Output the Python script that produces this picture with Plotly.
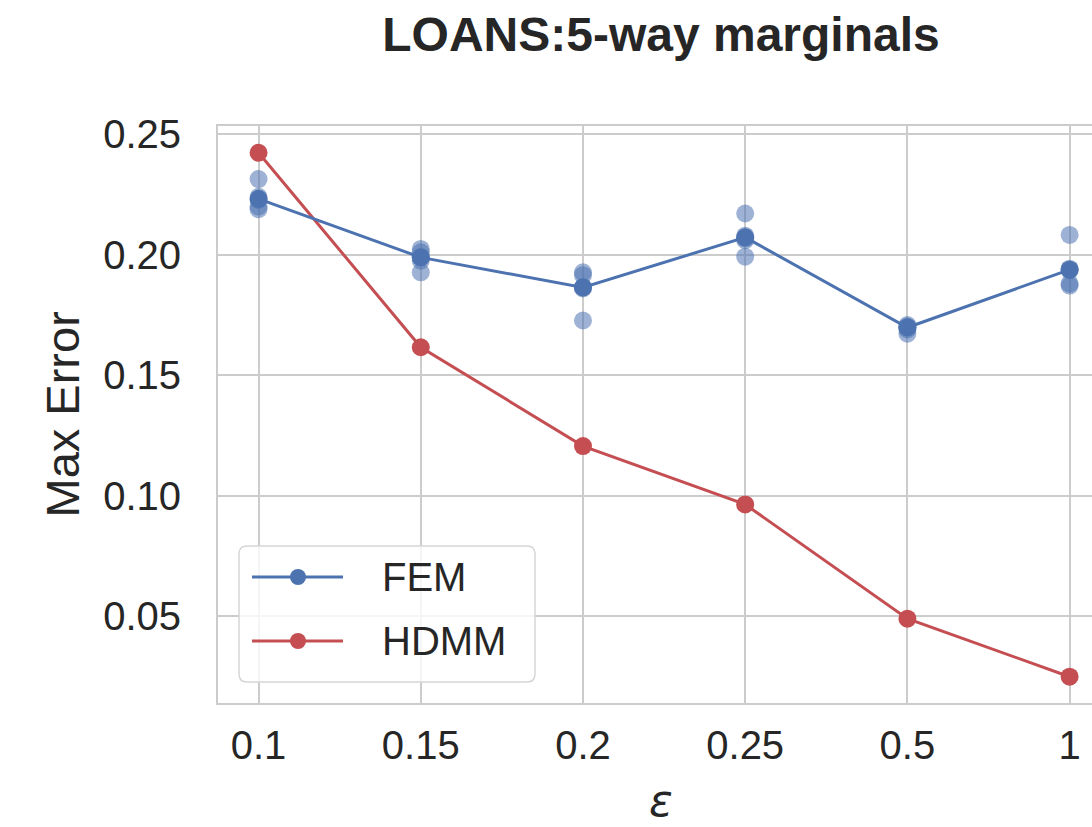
import plotly.graph_objects as go

# ---------------- data ----------------
eps_labels = ["0.1", "0.15", "0.2", "0.25", "0.5", "1"]
hdmm_err = [0.2423, 0.1616, 0.1206, 0.0964, 0.0490, 0.0249]
fem_mean = [0.2232, 0.1989, 0.1864, 0.2072, 0.1698, 0.1938]
fem_runs = [
    [0.2314, 0.2240, 0.2228, 0.2200, 0.2189],
    [0.2024, 0.2010, 0.1989, 0.1975, 0.1927],
    [0.1927, 0.1915, 0.1866, 0.1860, 0.1727],
    [0.2171, 0.2079, 0.2068, 0.2060, 0.1992],
    [0.1708, 0.1702, 0.1698, 0.1690, 0.1672],
    [0.2082, 0.1942, 0.1935, 0.1880, 0.1872],
]
y_ticks = [0.05, 0.10, 0.15, 0.20, 0.25]
series_names = ["FEM", "HDMM"]

# ---------------- style ----------------
BLUE = "#4C72B0"
RED = "#C44E52"
GRID = "#cccccc"
TXT = "#262626"
FONT = "Liberation Sans, Arial, Helvetica, sans-serif"

W, H = 1092, 827
ML, MR, MT, MB = 218, 0, 126, 124
PW, PH = W - ML - MR, H - MT - MB


def px(xp):
    return (xp - ML) / PW


def py(yp):
    return (H - MB - yp) / PH


fig = go.Figure()

run_x = [lab for lab, runs in zip(eps_labels, fem_runs) for _ in runs]
run_y = [v for runs in fem_runs for v in runs]

fig.add_trace(go.Scatter(
    x=eps_labels, y=hdmm_err, mode="lines+markers", name=series_names[1],
    line=dict(color=RED, width=3), marker=dict(color=RED, size=18),
    showlegend=False,
))
fig.add_trace(go.Scatter(
    x=run_x, y=run_y, mode="markers", name="FEM runs",
    marker=dict(color=BLUE, size=18, opacity=0.55, line=dict(width=0)),
    showlegend=False,
))
fig.add_trace(go.Scatter(
    x=eps_labels, y=fem_mean, mode="lines+markers", name=series_names[0],
    line=dict(color=BLUE, width=3), marker=dict(color=BLUE, size=18),
    showlegend=False,
))

axis_common = dict(
    showgrid=True, gridcolor=GRID, gridwidth=2,
    showline=True, linecolor=GRID, linewidth=2,
    zeroline=False, ticks="outside", tickcolor="rgba(0,0,0,0)",
    tickfont=dict(family=FONT, size=40, color=TXT),
)

fig.update_xaxes(
    type="category", categoryorder="array", categoryarray=eps_labels,
    range=[-0.25, 5.138], mirror=True, ticklen=6, **axis_common,
)
fig.update_yaxes(
    range=[0.0140, 0.2534], tickvals=y_ticks, tickformat=".2f",
    mirror=False, ticklen=27, **axis_common,
)

# ---------------- custom legend (matplotlib style) ----------------
bx0, bx1, by0, by1 = 239, 535, 546, 682
r = 8
rx, ry = r / PW, r / PH
X0, X1, Y0, Y1 = px(bx0), px(bx1), py(by1), py(by0)
path = (
    f"M{X0 + rx},{Y0} L{X1 - rx},{Y0} Q{X1},{Y0} {X1},{Y0 + ry} "
    f"L{X1},{Y1 - ry} Q{X1},{Y1} {X1 - rx},{Y1} "
    f"L{X0 + rx},{Y1} Q{X0},{Y1} {X0},{Y1 - ry} "
    f"L{X0},{Y0 + ry} Q{X0},{Y0} {X0 + rx},{Y0} Z"
)
shapes = [dict(type="path", path=path, xref="paper", yref="paper",
               fillcolor="rgba(255,255,255,0.8)",
               line=dict(color="#d6d6d6", width=1.5), layer="above")]
annotations = []
for name, col, yrow in [(series_names[0], BLUE, 577), (series_names[1], RED, 641)]:
    shapes.append(dict(type="line", xref="paper", yref="paper",
                       x0=px(252), x1=px(343), y0=py(yrow), y1=py(yrow),
                       line=dict(color=col, width=3), layer="above"))
    shapes.append(dict(type="circle", xref="paper", yref="paper",
                       xsizemode="pixel", ysizemode="pixel",
                       xanchor=px(298), yanchor=py(yrow),
                       x0=-8, x1=8, y0=-8, y1=8,
                       fillcolor=col, line=dict(width=0), layer="above"))
    annotations.append(dict(text=name, xref="paper", yref="paper",
                            x=px(380), y=py(yrow), xanchor="left", yanchor="middle",
                            showarrow=False, font=dict(family=FONT, size=40, color=TXT)))

# axis titles
annotations.append(dict(text="Max Error", xref="paper", yref="paper",
                        x=px(62), y=0.5, xanchor="center", yanchor="middle",
                        textangle=-90, showarrow=False,
                        font=dict(family=FONT, size=47, color=TXT)))
annotations.append(dict(text="<i>ε</i>", xref="paper", yref="paper",
                        x=px(661), y=py(800), xanchor="center", yanchor="middle",
                        showarrow=False, borderpad=0,
                        font=dict(family="DejaVu Sans, sans-serif", size=44, color=TXT)))

fig.update_layout(
    width=W, height=H,
    margin=dict(l=ML, r=MR, t=MT, b=MB, pad=0),
    plot_bgcolor="white", paper_bgcolor="white",
    showlegend=False,
    title=dict(text="<b>LOANS:5-way marginals</b>", xref="paper", x=px(661),
               xanchor="center", yref="container", y=1 - 34 / H, yanchor="middle",
               font=dict(family=FONT, size=48, color=TXT)),
    shapes=shapes, annotations=annotations,
)

fig.write_html("out.html")
